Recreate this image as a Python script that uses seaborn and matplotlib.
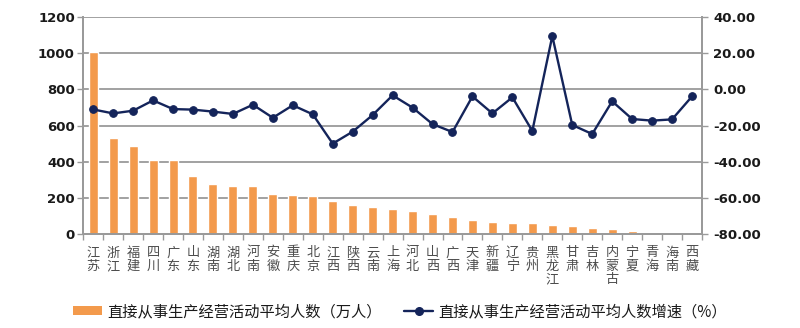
import numpy as np
import pandas as pd
import matplotlib
matplotlib.use("Agg")
import matplotlib.pyplot as plt
from matplotlib.patches import Patch
from matplotlib.lines import Line2D
from matplotlib.ticker import FixedLocator, FormatStrFormatter
import seaborn as sns

provinces = ["江苏", "浙江", "福建", "四川", "广东", "山东", "湖南", "湖北", "河南", "安徽",
             "重庆", "北京", "江西", "陕西", "云南", "上海", "河北", "山西", "广西", "天津",
             "新疆", "辽宁", "贵州", "黑龙江", "甘肃", "吉林", "内蒙古", "宁夏", "青海", "海南", "西藏"]
people = [1006, 531, 485, 411, 410, 319, 275, 264, 263, 221,
          214, 208, 181, 162, 150, 141, 125, 110, 95, 75,
          64, 62, 62, 52, 42, 33, 27, 15, 8, 8, 4]
growth = [-11.1, -13.3, -11.8, -6.1, -10.9, -11.2, -12.3, -13.6, -8.5, -15.7,
          -8.8, -13.8, -30.0, -23.4, -14.2, -3.3, -10.1, -19.2, -23.6, -3.9,
          -13.3, -4.4, -23.0, 29.5, -19.7, -24.7, -6.6, -16.4, -17.3, -16.6, -3.9]
bar_label = "直接从事生产经营活动平均人数（万人）"
line_label = "直接从事生产经营活动平均人数增速（%）"

BAR_COLOR = "#F39A4C"
LINE_COLOR = "#14245A"
GRID_COLOR = "#9A9A9A"

sns.set_theme(style="white")
plt.rcParams["font.family"] = ["Noto Sans CJK SC", "DejaVu Sans"]

df = pd.DataFrame({"省份": provinces, "人数": people, "增速": growth})
df["pos"] = np.arange(len(df))

fig = plt.figure(figsize=(8.0, 3.28), dpi=100)
ax = fig.add_axes([0.104, 0.2866, 0.7735, 0.6614])

sns.barplot(data=df, x="省份", y="人数", color=BAR_COLOR, saturation=1,
            width=0.45, ax=ax, zorder=2)
ax.set_ylim(0, 1200)
ax.set_yticks(np.arange(0, 1201, 200))
ax.set_xlim(-0.5, len(df) - 0.5)
ax.yaxis.grid(True, color=GRID_COLOR, linewidth=1.3, zorder=0)
ax.set_axisbelow(True)
ax.set_xlabel("")
ax.set_ylabel("")

ax2 = ax.twinx()
sns.lineplot(data=df, x="pos", y="增速", color=LINE_COLOR, linewidth=1.7,
             marker="o", markersize=5.5, markeredgecolor=LINE_COLOR,
             markerfacecolor=LINE_COLOR, ax=ax2, zorder=3)
ax2.set_ylim(-80, 40)
ax2.set_yticks(np.arange(-80, 41, 20))
ax2.yaxis.set_major_formatter(FormatStrFormatter("%.2f"))
ax2.set_xlim(-0.5, len(df) - 0.5)
ax2.set_xlabel("")
ax2.set_ylabel("")
ax2.grid(False)

# category labels stacked one character per line
ax.set_xticks(np.arange(len(df)))
ax.set_xticklabels(["\n".join(p) for p in provinces], fontsize=9.5,
                   color="#4d4d4d", va="top", linespacing=1.05)
ax.tick_params(axis="x", which="major", length=0, pad=9)
ax.xaxis.set_minor_locator(FixedLocator(np.arange(-0.5, len(df), 1.0)))
ax.tick_params(axis="x", which="minor", bottom=True, length=4, width=1,
               color=GRID_COLOR)

ax.tick_params(axis="y", left=True, length=4, width=1, color=GRID_COLOR, pad=2)
ax2.tick_params(axis="y", right=True, length=4, width=1, color=GRID_COLOR, pad=4)
for lbl in ax.get_yticklabels() + ax2.get_yticklabels():
    lbl.set_fontfamily("DejaVu Sans")
    lbl.set_fontweight("bold")
    lbl.set_fontsize(9.5)
    lbl.set_color("#1a1a1a")

for a in (ax, ax2):
    a.spines["top"].set_visible(False)
    for s in ("left", "right", "bottom"):
        a.spines[s].set_color(GRID_COLOR)
        a.spines[s].set_linewidth(1.3)

if ax2.get_legend():
    ax2.get_legend().remove()

handles = [Patch(facecolor=BAR_COLOR, edgecolor="none"),
           Line2D([], [], color=LINE_COLOR, linewidth=1.7, marker="o", markersize=5.5)]
fig.legend(handles, [bar_label, line_label], loc="center",
           bbox_to_anchor=(0.5, 0.05), ncol=2, frameon=False,
           fontsize=11, handlelength=1.9, handleheight=0.55,
           columnspacing=1.5, handletextpad=0.3, labelcolor="#1a1a1a")

fig.savefig("out.png", dpi=100, facecolor="white")
